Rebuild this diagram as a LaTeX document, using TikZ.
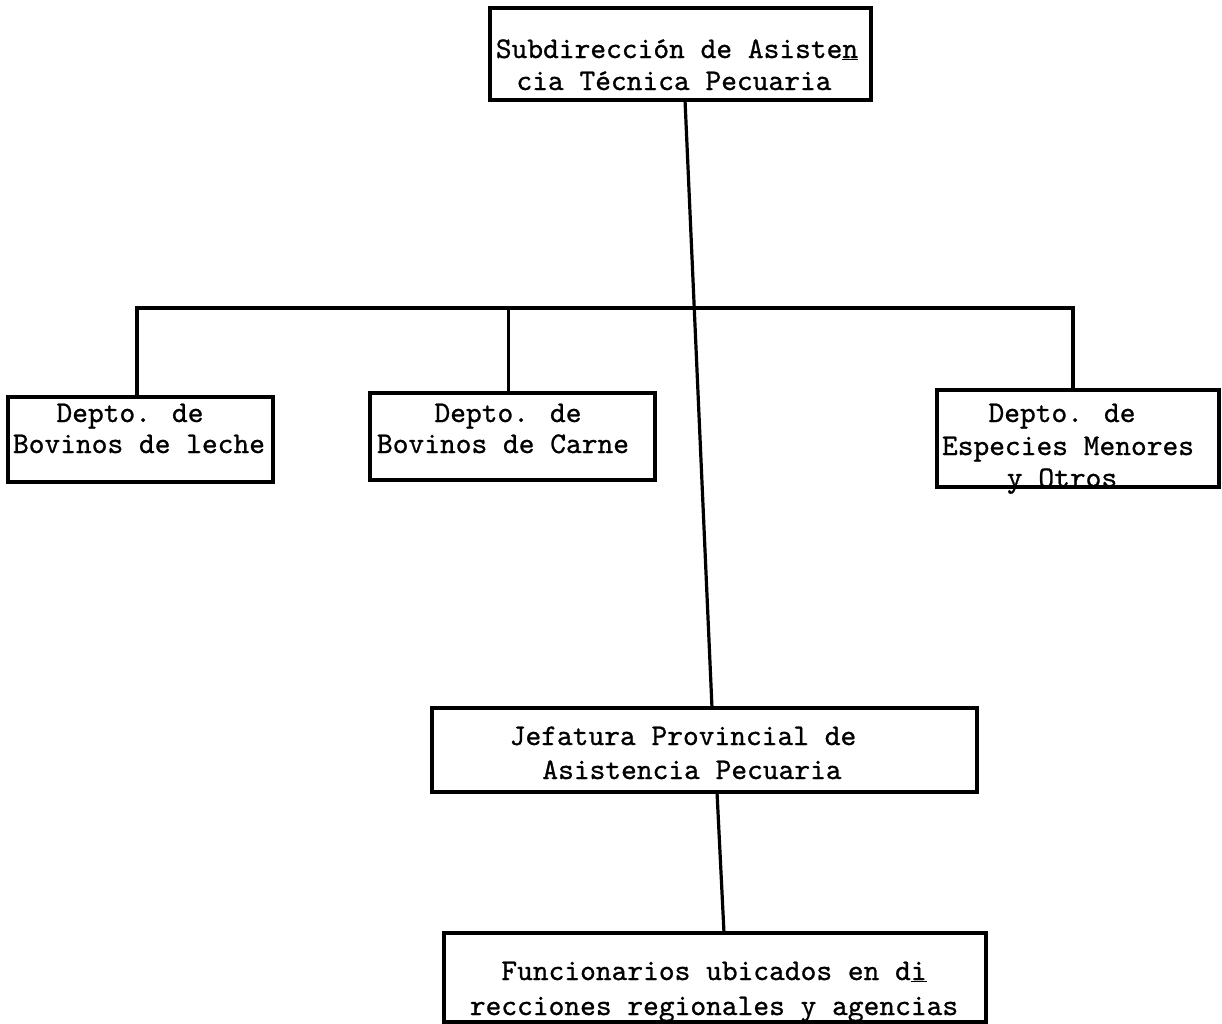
\documentclass[tikz,border=0pt]{standalone}
\usepackage{fontspec}
\newfontfamily\twfont{lmmono10-regular.otf}[FakeBold=0.8]
\begin{document}
\begin{tikzpicture}[x=1pt,y=-1pt,
  box/.style={draw, line width=3.2pt, inner sep=0pt, outer sep=0pt},
  ln/.style={font=\twfont\fontsize{30}{33}\selectfont, inner sep=0pt, anchor=base},
  conn/.style={draw, line width=3.2pt}]
\useasboundingbox[fill=white] (0,0) rectangle (1222,1023);
% boxes
\node[box, minimum width=381pt, minimum height=92pt] (top) at (680.5,54) {};
\node[box, minimum width=265pt, minimum height=85pt] (dl) at (140.5,439.5) {};
\node[box, minimum width=285pt, minimum height=87pt] (dm) at (512.5,436.5) {};
\node[box, minimum width=282pt, minimum height=97pt] (dr) at (1078,438.5) {};
\node[box, minimum width=545pt, minimum height=84pt] (jef) at (704.5,750) {};
\node[box, minimum width=542pt, minimum height=89pt] (fun) at (715,977.5) {};
% texts
\node[ln] (topA) at (677,58) {Subdirección de Asiste\underline{n}};
\node[ln] (topB) at (674,90) {cia Técnica Pecuaria};
\node[ln] (dlA) at (130,422) {Depto. de};
\node[ln] (dlB) at (139,453) {Bovinos de leche};
\node[ln] (dmA) at (508,422) {Depto. de};
\node[ln] (dmB) at (503,453) {Bovinos de Carne};
\node[ln] (drA) at (1062,422) {Depto. de};
\node[ln] (drB) at (1068,455) {Especies Menores};
\node[ln] (drC) at (1062,487) {y Otros};
\node[ln] (jefA) at (683,745) {Jefatura Provincial de};
\node[ln] (jefB) at (692,779) {Asistencia Pecuaria};
\node[ln] (funA) at (714,980) {Funcionarios ubicados en d\underline{i}};
\node[ln] (funB) at (714,1015) {recciones regionales y agencias};
% connectors
\coordinate (bar) at (600,308);
\coordinate (dltop) at ([xshift=-3.5pt]dl.north);
\coordinate (dmtop) at ([xshift=-4pt]dm.north);
\coordinate (drtop) at ([xshift=-5pt]dr.north);
\draw[conn] (dltop) |- (bar) -| (drtop);
\draw[conn] (dmtop) -- (dmtop |- bar);
\draw[conn] ([xshift=4.5pt]top.south) -- ([xshift=7.5pt]jef.north);
\draw[conn] ([xshift=12.5pt]jef.south) -- ([xshift=9pt]fun.north);
\end{tikzpicture}
\end{document}
